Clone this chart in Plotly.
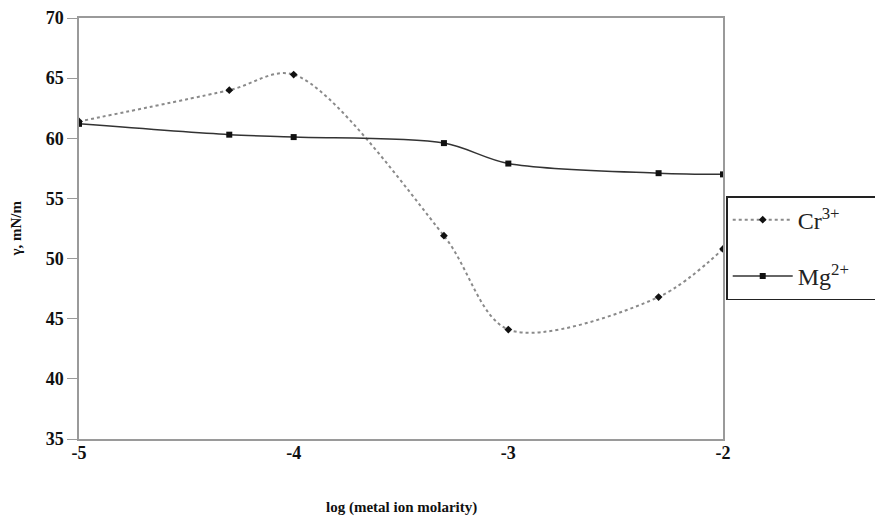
import plotly.graph_objects as go

x_vals = [-5, -4.3, -4, -3.3, -3, -2.3, -2]
cr_vals = [61.4, 64.0, 65.3, 51.9, 44.1, 46.8, 50.8]
mg_vals = [61.2, 60.3, 60.1, 59.6, 57.9, 57.1, 57.0]
x_ticks = [-5, -4, -3, -2]
y_ticks = [35, 40, 45, 50, 55, 60, 65, 70]

FONT = "Liberation Serif"
PAD = "\u00a0" * 8

fig = go.Figure()
fig.add_trace(go.Scatter(
    x=x_vals, y=cr_vals, name="Cr<sup>3+</sup>" + PAD, mode="lines+markers", legendgroup="a",
    line=dict(color="#8a8a8a", width=2, dash="dot", shape="spline", smoothing=0.9),
    marker=dict(symbol="diamond", size=6, color="#111111"),
))
fig.add_trace(go.Scatter(
    x=x_vals, y=mg_vals, name="Mg<sup>2+</sup>" + PAD, mode="lines+markers", legendgroup="b",
    line=dict(color="#333333", width=1.5, shape="spline", smoothing=0.9),
    marker=dict(symbol="square", size=6, color="#111111"),
))

fig.update_layout(
    width=883, height=517,
    margin=dict(l=71, r=168, t=10, b=86, autoexpand=False),
    paper_bgcolor="white", plot_bgcolor="white",
    font=dict(family=FONT, color="#111111"),
    showlegend=True,
    legend=dict(
        x=1.005, y=0.577, xanchor="left", yanchor="top",
        bordercolor="#222222", borderwidth=1.5, bgcolor="white",
        font=dict(family=FONT, size=24, color="#222222"),
        traceorder="grouped", tracegroupgap=22,
        itemwidth=60,
    ),
    annotations=[
        dict(text="log (metal ion molarity)", xref="paper", yref="paper",
             x=0.5, y=-68 / 421, xanchor="center", yanchor="middle", showarrow=False,
             font=dict(family=FONT, size=15, weight="bold", color="#111111")),
        dict(text="γ, mN/m", xref="paper", yref="paper",
             x=-64 / 644, y=0.5, xanchor="center", yanchor="middle", showarrow=False,
             textangle=-90,
             font=dict(family=FONT, size=15, weight="bold", color="#111111")),
    ],
)
fig.update_xaxes(
    range=[-5, -2], tickvals=x_ticks, ticktext=[str(v) for v in x_ticks],
    showgrid=False, zeroline=False, showline=True, linecolor="#9a9a9a", linewidth=1.5,
    mirror=True, ticks="outside", ticklen=0, automargin=False, ticklabelstandoff=-3,
    tickfont=dict(family=FONT, size=18, weight="bold", color="#111111"),
)
fig.update_yaxes(
    range=[35, 70], tickvals=y_ticks,
    showgrid=False, zeroline=False, showline=True, linecolor="#9a9a9a", linewidth=1.5,
    mirror=True, ticks="outside", ticklen=10, tickcolor="#9a9a9a", automargin=False,
    tickfont=dict(family=FONT, size=18, weight="bold", color="#111111"),
)
fig.write_html("out.html")
